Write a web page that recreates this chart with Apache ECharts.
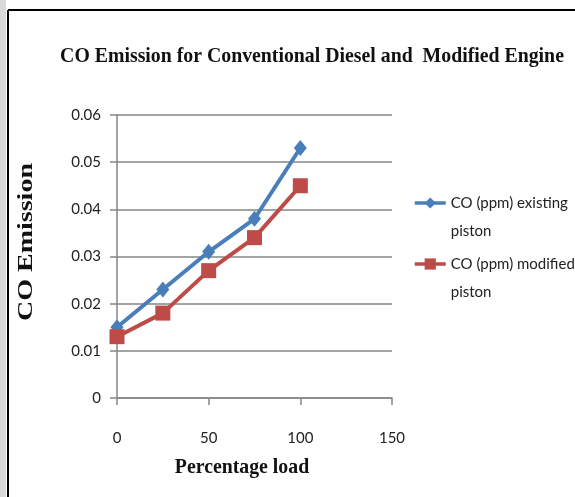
<!DOCTYPE html>
<html>
<head>
<meta charset="utf-8">
<script src="https://cdn.jsdelivr.net/npm/echarts@6/dist/echarts.min.js"></script>
<style>
  html, body { margin: 0; padding: 0; background: #fff; }
  #chart { width: 575px; height: 497px; }
</style>
</head>
<body>
<div id="chart"></div>
<script>
const loads = [0, 25, 50, 75, 100];
const existingPiston = [0.015, 0.023, 0.031, 0.038, 0.053];
const modifiedPiston = [0.013, 0.018, 0.027, 0.034, 0.045];
const seriesNames = ['CO (ppm) existing piston', 'CO (ppm) modified piston'];

const chart = echarts.init(document.getElementById('chart'));

const serif = '"Liberation Serif", "DejaVu Serif", serif';
const sans = 'Lato, "Liberation Sans", sans-serif';

// legend text: blank first line keeps the icon level with the first text line
const legendBase = {
  orient: 'vertical',
  left: 408,
  itemWidth: 31,
  itemHeight: 14,
  lineStyle: { width: 3.5 },
  formatter: (name) => ' \n' + name.replace(' piston', '\npiston'),
  textStyle: { fontFamily: sans, fontSize: 15, color: '#222', lineHeight: 28 }
};

chart.setOption({
  backgroundColor: '#fff',
  animation: false,
  graphic: [
    { type: 'rect', shape: { x: 0, y: 0, width: 6, height: 497 }, style: { fill: '#d9d9d9' } },
    { type: 'line', shape: { x1: 8, y1: 10, x2: 575, y2: 10 }, style: { stroke: '#000', lineWidth: 2 } },
    { type: 'line', shape: { x1: 8, y1: 10, x2: 8, y2: 497 }, style: { stroke: '#000', lineWidth: 2 } },
    {
      type: 'text', x: 312, y: 56, scaleX: 0.9,
      style: {
        text: 'CO Emission for Conventional Diesel and  Modified Engine',
        font: 'bold 22px ' + serif, fill: '#111', align: 'center', verticalAlign: 'middle'
      }
    },
    {
      type: 'text', x: 242, y: 467, scaleX: 0.9,
      style: {
        text: 'Percentage load',
        font: 'bold 22px ' + serif, fill: '#111', align: 'center', verticalAlign: 'middle'
      }
    },
    {
      type: 'text', x: 27, y: 242, rotation: Math.PI / 2, scaleX: 1.4,
      style: {
        text: 'CO Emission',
        font: 'bold 20px ' + serif, fill: '#111', align: 'center', verticalAlign: 'middle'
      }
    }
  ],
  legend: [
    Object.assign({}, legendBase, { top: 156, data: [seriesNames[0]] }),
    Object.assign({}, legendBase, { top: 217, data: [seriesNames[1]] })
  ],
  grid: { left: 117, top: 115, width: 275, height: 283 },
  xAxis: {
    type: 'value',
    min: 0, max: 150, interval: 50,
    axisLine: { show: true, lineStyle: { color: '#868686', width: 1.5 } },
    axisTick: { show: true, length: 7, lineStyle: { color: '#868686', width: 1.5 } },
    axisLabel: { margin: 33, fontFamily: sans, fontSize: 15, color: '#222' },
    splitLine: { show: false }
  },
  yAxis: {
    type: 'value',
    min: 0, max: 0.06, interval: 0.01,
    axisLine: { show: true, lineStyle: { color: '#868686', width: 1.5 } },
    axisTick: { show: true, length: 7, lineStyle: { color: '#868686', width: 1.5 } },
    axisLabel: {
      margin: 16, fontFamily: sans, fontSize: 15, color: '#222',
      formatter: (v) => (v === 0 ? '0' : v.toFixed(2))
    },
    splitLine: { show: true, lineStyle: { color: '#868686', width: 1.5 } }
  },
  series: [
    {
      name: seriesNames[0],
      type: 'line',
      data: loads.map((x, i) => [x, existingPiston[i]]),
      symbol: 'diamond',
      symbolSize: [13, 16],
      lineStyle: { color: '#4a7ebb', width: 4 },
      itemStyle: { color: '#4a7ebb' }
    },
    {
      name: seriesNames[1],
      type: 'line',
      data: loads.map((x, i) => [x, modifiedPiston[i]]),
      symbol: 'rect',
      symbolSize: 15,
      lineStyle: { color: '#be4b48', width: 4 },
      itemStyle: { color: '#be4b48' }
    }
  ]
});
</script>
</body>
</html>
